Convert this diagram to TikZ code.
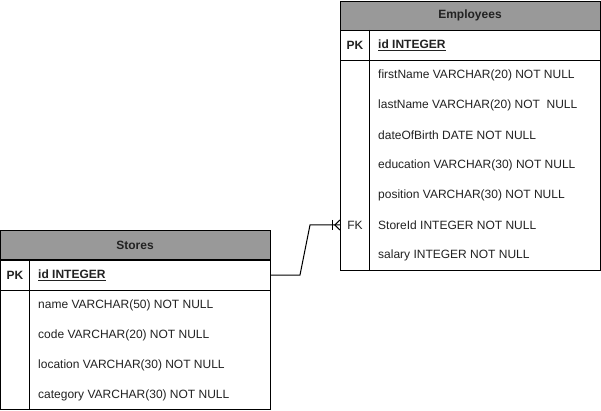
\documentclass[tikz,border=0pt]{standalone}
\usepackage{fontspec}
\setmainfont{Liberation Sans}
\usepackage{tikz}
\usetikzlibrary{shapes}
\usetikzlibrary{positioning}
\usetikzlibrary{calc}
\definecolor{entetegris}{RGB}{153,153,153}
\definecolor{texte}{RGB}{34,34,34}
\tikzstyle{entete}=[rectangle,draw,fill=entetegris,minimum height=29pt,inner sep=0pt,font=\fontsize{12}{14}\selectfont\bfseries,text=texte]
\tikzstyle{cadre}=[rectangle,draw,fill=white,inner sep=0pt]
\tikzstyle{champ}=[anchor=west,inner sep=0pt,font=\fontsize{12}{14}\selectfont,text=texte]
\tikzstyle{cle}=[inner sep=0pt,font=\fontsize{12}{14}\selectfont,text=texte]
\tikzstyle{lien}=[thin,line width=1pt]

\begin{document}
\begin{tikzpicture}[x=1pt,y=-1pt]
\useasboundingbox (0,0) rectangle (601,411);
% Employees
\node[entete,minimum width=260pt] (eh) at (470,15.5) {Employees};
\node[cadre,minimum width=260pt,minimum height=30pt] (epk) at (470,45) {};
\node[cadre,minimum width=260pt,minimum height=210pt] (ebody) at (470,165) {};
\node[cle] (epkl) at (355,45) {\bfseries PK};
\node[champ] (eid) at (378,45) {\bfseries\underline{id INTEGER}};
\node[champ] (e1) at (378,75) {firstName VARCHAR(20) NOT NULL};
\node[champ] (e2) at (378,105) {lastName VARCHAR(20) NOT\ \ NULL};
\node[champ] (e3) at (378,135) {dateOfBirth DATE NOT NULL};
\node[champ] (e4) at (378,165) {education VARCHAR(30) NOT NULL};
\node[champ] (e5) at (378,195) {position VARCHAR(30) NOT NULL};
\node[cle] (efk) at (355,225) {FK};
\node[champ] (e6) at (378,225) {StoreId INTEGER NOT NULL};
\node[champ] (e7) at (378,255) {salary INTEGER NOT NULL};
\draw[lien] ($(epk.north west)+(30,0)$) -- ($(ebody.south west)+(30,0)$);
% Stores
\node[entete,minimum width=270pt] (sh) at (135,245) {Stores};
\node[cadre,minimum width=270pt,minimum height=30pt] (spk) at (135,275) {};
\node[cadre,minimum width=270pt,minimum height=119pt] (sbody) at (135,349.5) {};
\node[cle] (spkl) at (15,275) {\bfseries PK};
\node[champ] (sid) at (38,275) {\bfseries\underline{id INTEGER}};
\node[champ] (s1) at (38,305) {name VARCHAR(50) NOT NULL};
\node[champ] (s2) at (38,335) {code VARCHAR(20) NOT NULL};
\node[champ] (s3) at (38,365) {location VARCHAR(30) NOT NULL};
\node[champ] (s4) at (38,395) {category VARCHAR(30) NOT NULL};
\draw[lien] ($(spk.north west)+(30,0)$) -- ($(sbody.south west)+(30,0)$);
%Drawing Edges
\coordinate (c1) at (300,275);
\coordinate (c2) at (310,225);
\coordinate (fin) at (efk -| ebody.west);
\draw[lien] (spk.east) -- (c1) -- (c2) -- (fin);
\draw[lien] ($(fin)+(-7,-5)$) -- ($(fin)+(-7,5)$);
\draw[lien] ($(fin)+(0,-5)$) -- ($(fin)+(-5,0)$) -- ($(fin)+(0,5)$);
\end{tikzpicture}
\end{document}
